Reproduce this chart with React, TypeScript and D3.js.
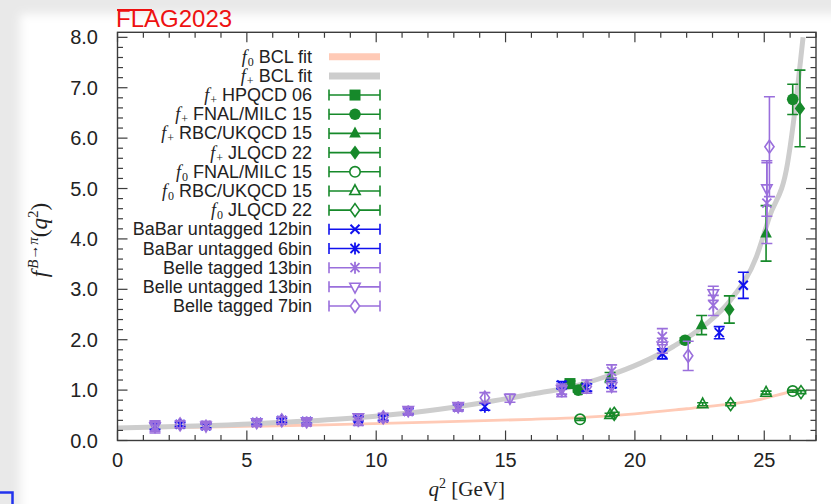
import React from 'react';
import * as d3 from 'd3';

const W = 831;
const H = 504;

// ---------- axes ----------
const xDomain: [number, number] = [0, 27];
const yDomain: [number, number] = [0, 8.1];
const xMajor = [0, 5, 10, 15, 20, 25];
const xMinor = d3.range(0, 28, 1);
const yMajor = [0, 1, 2, 3, 4, 5, 6, 7, 8];
const yMinor = d3.range(0, 8.01, 0.2);
const xTickLabels = ['0', '5', '10', '15', '20', '25'];
const yTickLabels = ['0.0', '1.0', '2.0', '3.0', '4.0', '5.0', '6.0', '7.0', '8.0'];

// ---------- BCL fit curves ----------
const fPlusFitQ2 = [0, 3, 6, 9, 12, 14, 16, 17.5, 19, 20.2, 21.5, 22.8, 23.7, 24.7, 25.2, 25.9, 26.25, 26.5];
const fPlusFitF = [0.25, 0.29, 0.35, 0.44, 0.59, 0.74, 0.92, 1.06, 1.29, 1.53, 1.87, 2.33, 2.79, 3.65, 4.44, 5.5, 6.82, 8.0];
const fZeroFitQ2 = [0, 4, 8, 12.5, 16, 18, 20, 22, 23.5, 24.7, 25.5, 26.4];
const fZeroFitF = [0.24, 0.27, 0.31, 0.37, 0.42, 0.46, 0.53, 0.63, 0.71, 0.8, 0.9, 1.03];

// ---------- data points: [q2, f, err] ----------
const hpqcd06Plus = [[17.49, 1.13, 0.05]];
const fnal15Plus = [[17.81, 1.0, 0.04], [21.94, 1.99, 0.05], [26.1, 6.77, 0.3]];
const rbc15Plus = [[19.04, 1.25, 0.1], [22.58, 2.29, 0.19], [25.07, 4.11, 0.55]];
const jlqcd22Plus = [[17.95, 1.03, 0.05], [23.65, 2.6, 0.27], [26.38, 6.59, 0.76]];
const fnal15Zero = [[17.88, 0.42, 0.02], [26.1, 0.98, 0.02]];
const rbc15Zero = [[19.04, 0.51, 0.03], [22.62, 0.72, 0.03], [25.07, 0.95, 0.03]];
const jlqcd22Zero = [[19.2, 0.53, 0.03], [23.7, 0.72, 0.03], [26.42, 0.96, 0.03]];
const babar12 = [[1.45, 0.28, 0.06], [3.42, 0.29, 0.04], [5.38, 0.36, 0.04], [7.31, 0.38, 0.04], [9.31, 0.43, 0.04], [11.24, 0.58, 0.05], [13.17, 0.66, 0.05], [17.17, 1.1, 0.07], [19.1, 1.12, 0.07], [21.06, 1.72, 0.1], [24.19, 3.08, 0.26]];
const babar6 = [[2.42, 0.32, 0.04], [6.35, 0.4, 0.04], [10.27, 0.45, 0.05], [14.2, 0.67, 0.07], [18.14, 1.05, 0.07], [23.26, 2.14, 0.12]];
const belleTagged13 = [[1.45, 0.27, 0.12], [3.42, 0.3, 0.08], [5.38, 0.35, 0.07], [7.31, 0.36, 0.07], [9.31, 0.38, 0.08], [11.24, 0.58, 0.08], [13.17, 0.66, 0.08], [17.17, 0.97, 0.1], [19.1, 1.37, 0.13], [21.06, 2.06, 0.16], [23.03, 2.68, 0.2], [25.1, 4.71, 0.8]];
const belleUntagged13 = [[1.45, 0.28, 0.1], [3.42, 0.29, 0.06], [5.38, 0.36, 0.06], [7.31, 0.38, 0.05], [9.31, 0.46, 0.06], [11.24, 0.6, 0.06], [13.17, 0.68, 0.07], [15.17, 0.84, 0.08], [17.17, 1.02, 0.1], [19.1, 1.08, 0.11], [21.06, 1.88, 0.15], [23.03, 2.92, 0.14], [25.1, 5.0, 0.55]];
const belleTagged7 = [[2.42, 0.32, 0.07], [6.35, 0.4, 0.07], [10.27, 0.46, 0.08], [14.2, 0.85, 0.1], [18.14, 1.07, 0.13], [22.06, 1.68, 0.29], [25.2, 5.83, 0.99]];

// ---------- legend ----------
const legendPrefixes = ['0', '+', '+', '+', '+', '+', '0', '0', '0', '', '', '', '', ''];
const legendTexts = ['BCL fit', 'BCL fit', 'HPQCD 06', 'FNAL/MILC 15', 'RBC/UKQCD 15', 'JLQCD 22', 'FNAL/MILC 15', 'RBC/UKQCD 15', 'JLQCD 22', 'BaBar untagged 12bin', 'BaBar untagged 6bin', 'Belle tagged 13bin', 'Belle untagged 13bin', 'Belle tagged 7bin'];

const GREEN = '#16892a';
const BLUE = '#1111ee';
const PURPLE = '#9a6fdc';
const GRAY_BAND = '#cdcdcd';
const SALMON = '#ffcab6';

type MarkerType = 'square' | 'circle' | 'triangle' | 'diamond' | 'circleOpen' | 'triangleOpen' | 'diamondOpen' | 'times' | 'asterisk' | 'triDownOpen';

const seriesList: { data: number[][]; marker: MarkerType; color: string }[] = [
  { data: hpqcd06Plus, marker: 'square', color: GREEN },
  { data: fnal15Plus, marker: 'circle', color: GREEN },
  { data: rbc15Plus, marker: 'triangle', color: GREEN },
  { data: jlqcd22Plus, marker: 'diamond', color: GREEN },
  { data: fnal15Zero, marker: 'circleOpen', color: GREEN },
  { data: rbc15Zero, marker: 'triangleOpen', color: GREEN },
  { data: jlqcd22Zero, marker: 'diamondOpen', color: GREEN },
  { data: babar12, marker: 'times', color: BLUE },
  { data: babar6, marker: 'asterisk', color: BLUE },
  { data: belleTagged13, marker: 'asterisk', color: PURPLE },
  { data: belleUntagged13, marker: 'triDownOpen', color: PURPLE },
  { data: belleTagged7, marker: 'diamondOpen', color: PURPLE },
];

const PX0 = 117.5, PX1 = 816, PY0 = 440.5, PY1 = 32.3;
const x = d3.scaleLinear().domain(xDomain).range([PX0, PX1]);
const y = d3.scaleLinear().domain(yDomain).range([PY0, PY1]);

function Marker({ type, cx, cy, color, legend }: { type: MarkerType; cx: number; cy: number; color: string; legend?: boolean }) {
  const sw = 1.6;
  const openFill = legend ? 'white' : 'none';
  switch (type) {
    case 'square':
      return <rect x={cx - 5.5} y={cy - 5.5} width={11} height={11} fill={color} />;
    case 'circle':
      return <circle cx={cx} cy={cy} r={5.8} fill={color} />;
    case 'circleOpen':
      return <circle cx={cx} cy={cy} r={5.2} fill={openFill} stroke={color} strokeWidth={sw} />;
    case 'triangle':
      return <path d={`M${cx},${cy - 6.8}L${cx + 5.8},${cy + 4.2}L${cx - 5.8},${cy + 4.2}Z`} fill={color} />;
    case 'triangleOpen':
      return <path d={`M${cx},${cy - 6.2}L${cx + 5.2},${cy + 3.6}L${cx - 5.2},${cy + 3.6}Z`} fill={openFill} stroke={color} strokeWidth={sw} />;
    case 'triDownOpen':
      return <path d={`M${cx},${cy + 6.2}L${cx + 5.2},${cy - 3.6}L${cx - 5.2},${cy - 3.6}Z`} fill={openFill} stroke={color} strokeWidth={sw} />;
    case 'diamond':
      return <path d={`M${cx},${cy - 7.2}L${cx + 5.2},${cy}L${cx},${cy + 7.2}L${cx - 5.2},${cy}Z`} fill={color} />;
    case 'diamondOpen':
      return <path d={`M${cx},${cy - 6.5}L${cx + 4.6},${cy}L${cx},${cy + 6.5}L${cx - 4.6},${cy}Z`} fill={openFill} stroke={color} strokeWidth={sw} />;
    case 'times':
      return <path d={`M${cx - 4.5},${cy - 4.5}L${cx + 4.5},${cy + 4.5}M${cx - 4.5},${cy + 4.5}L${cx + 4.5},${cy - 4.5}`} stroke={color} strokeWidth={2} fill="none" />;
    case 'asterisk':
      return <path d={`M${cx - 4.5},${cy - 4.5}L${cx + 4.5},${cy + 4.5}M${cx - 4.5},${cy + 4.5}L${cx + 4.5},${cy - 4.5}M${cx},${cy - 6}L${cx},${cy + 6}`} stroke={color} strokeWidth={1.8} fill="none" />;
  }
  return null;
}

function ErrorPoint({ d, marker, color }: { d: number[]; marker: MarkerType; color: string }) {
  const cx = x(d[0]);
  const cy = y(d[1]);
  const yt = y(d[1] + d[2]);
  const yb = y(d[1] - d[2]);
  return (
    <g>
      <path d={`M${cx},${yt}L${cx},${yb}M${cx - 5.5},${yt}L${cx + 5.5},${yt}M${cx - 5.5},${yb}L${cx + 5.5},${yb}`} stroke={color} strokeWidth={1.6} fill="none" />
      <Marker type={marker} cx={cx} cy={cy} color={color} />
    </g>
  );
}

export default function App() {
  const line = d3.line<number>().curve(d3.curveMonotoneX);
  const fPlusPath = line.x((_, i) => x(fPlusFitQ2[i])).y((v) => y(v))(fPlusFitF) || '';
  const line2 = d3.line<number>().curve(d3.curveMonotoneX);
  const fZeroPath = line2.x((_, i) => x(fZeroFitQ2[i])).y((v) => y(v))(fZeroFitF) || '';

  const tickLenMajor = 10;
  const tickLenMinor = 5.5;
  const frame = '#3c3c3c';

  const legendX0 = 329, legendX1 = 380, legendMid = 355;
  const rowY = (i: number) => 56.7 + i * 19.18;

  return (
    <svg width={W} height={H} style={{ position: 'absolute', left: 0, top: 0 }} xmlns="http://www.w3.org/2000/svg">
      <defs>
        <filter id="soft" x="-5%" y="-5%" width="110%" height="110%">
          <feGaussianBlur stdDeviation="5" />
        </filter>
        <clipPath id="plotclip">
          <rect x={PX0} y={PY1} width={PX1 - PX0} height={PY0 - PY1} />
        </clipPath>
      </defs>
      {/* background */}
      <rect x={0} y={0} width={W} height={H} fill="#e9e9e9" />
      <rect x={20} y={14} width={W + 20} height={H + 20} fill="#ffffff" filter="url(#soft)" />
      <path d="M0,492.5H12.5V504" stroke="#2233ee" strokeWidth={2.5} fill="none" />

      {/* FLAG logo */}
      <text x={116} y={27} fill="#ee1111" fontFamily="Liberation Sans, Arial, sans-serif" fontSize={24}>FLAG2023</text>
      <line x1={117} x2={152} y1={10} y2={10} stroke="#ee1111" strokeWidth={2} />

      {/* fit curves */}
      <g clipPath="url(#plotclip)">
        <path d={fZeroPath} stroke={SALMON} strokeWidth={2.8} fill="none" />
        <path d={fPlusPath} stroke={GRAY_BAND} strokeWidth={5} fill="none" />
      </g>

      {/* frame + ticks */}
      <rect x={PX0} y={PY1} width={PX1 - PX0} height={PY0 - PY1} fill="none" stroke={frame} strokeWidth={1.4} />
      {xMinor.map((t) => {
        const len = xMajor.includes(t) ? tickLenMajor : tickLenMinor;
        const px = x(t);
        return (
          <g key={'xt' + t}>
            <line x1={px} x2={px} y1={PY0} y2={PY0 - len} stroke={frame} strokeWidth={1.2} />
            <line x1={px} x2={px} y1={PY1} y2={PY1 + len} stroke={frame} strokeWidth={1.2} />
          </g>
        );
      })}
      {yMinor.map((t, i) => {
        const major = i % 5 === 0;
        const len = major ? tickLenMajor : tickLenMinor;
        const py = y(t);
        return (
          <g key={'yt' + i}>
            <line x1={PX0} x2={PX0 + len} y1={py} y2={py} stroke={frame} strokeWidth={1.2} />
            <line x1={PX1} x2={PX1 - len} y1={py} y2={py} stroke={frame} strokeWidth={1.2} />
          </g>
        );
      })}
      {xMajor.map((t, i) => (
        <text key={'xl' + t} x={x(t)} y={467} textAnchor="middle" fontFamily="Liberation Sans, Arial, sans-serif" fontSize={20} fill="#222">{xTickLabels[i]}</text>
      ))}
      {yMajor.map((t, i) => (
        <text key={'yl' + t} x={98} y={y(t) + 7} textAnchor="end" fontFamily="Liberation Sans, Arial, sans-serif" fontSize={20} fill="#222">{yTickLabels[i]}</text>
      ))}

      {/* axis titles */}
      <text x={(PX0 + PX1) / 2} y={496} textAnchor="middle" fontFamily="Liberation Serif, serif" fontSize={21} fill="#222">
        <tspan fontStyle="italic">q</tspan>
        <tspan fontSize={14} dy={-8}>2</tspan>
        <tspan dy={8}> [GeV]</tspan>
      </text>
      <text transform={`translate(47,240) rotate(-90)`} textAnchor="middle" fontFamily="Liberation Serif, serif" fontSize={23} fill="#222">
        <tspan fontStyle="italic">f</tspan>
        <tspan fontSize={15} dy={-9} dx={2} fontStyle="italic">B</tspan>
        <tspan fontSize={15}>→</tspan>
        <tspan fontSize={15} fontStyle="italic">π</tspan>
        <tspan dy={9}>(</tspan>
        <tspan fontStyle="italic">q</tspan>
        <tspan fontSize={15} dy={-9}>2</tspan>
        <tspan dy={9}>)</tspan>
      </text>

      {/* data */}
      {seriesList.map((s, si) => (
        <g key={'s' + si}>
          {s.data.map((d, di) => (
            <ErrorPoint key={di} d={d} marker={s.marker} color={s.color} />
          ))}
        </g>
      ))}

      {/* legend */}
      {legendTexts.map((txt, i) => {
        const cy = rowY(i);
        const pre = legendPrefixes[i];
        let sample: React.ReactNode = null;
        if (i === 0) sample = <line x1={legendX0} x2={legendX1} y1={cy} y2={cy} stroke={SALMON} strokeWidth={7} />;
        else if (i === 1) sample = <line x1={legendX0} x2={legendX1} y1={cy} y2={cy} stroke={GRAY_BAND} strokeWidth={7} />;
        else {
          const s = seriesList[i - 2];
          sample = (
            <g>
              <path d={`M${legendX0},${cy}L${legendX1},${cy}M${legendX0},${cy - 5.5}L${legendX0},${cy + 5.5}M${legendX1},${cy - 5.5}L${legendX1},${cy + 5.5}`} stroke={s.color} strokeWidth={1.6} fill="none" />
              <Marker type={s.marker} cx={legendMid} cy={cy} color={s.color} legend />
            </g>
          );
        }
        return (
          <g key={'lg' + i}>
            <text x={312} y={cy + 6} textAnchor="end" fontFamily="Liberation Sans, Arial, sans-serif" fontSize={18} fill="#222">
              {pre !== '' && <tspan fontFamily="Liberation Serif, serif" fontStyle="italic" fontSize={18}>f</tspan>}
              {pre !== '' && <tspan fontFamily="Liberation Serif, serif" fontSize={12} dy={3} dx={1}>{pre}</tspan>}
              {pre !== '' ? <tspan dy={-3} dx={5}>{txt}</tspan> : <tspan>{txt}</tspan>}
            </text>
            {sample}
          </g>
        );
      })}
    </svg>
  );
}
